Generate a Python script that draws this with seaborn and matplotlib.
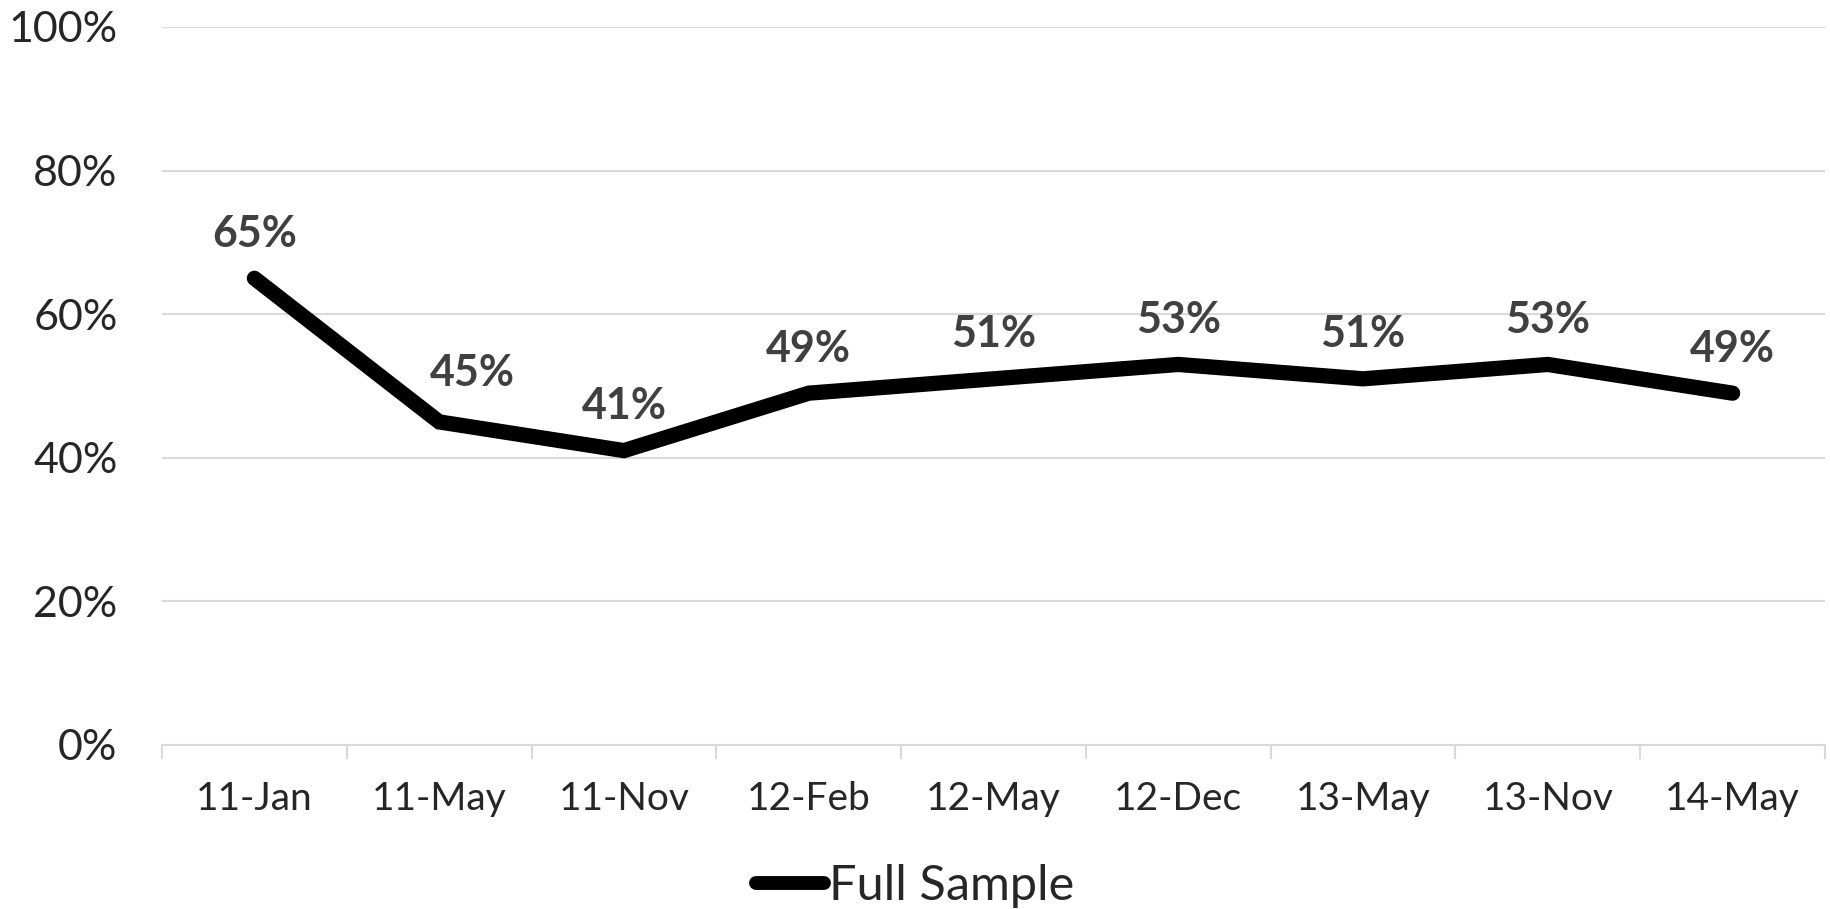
import seaborn as sns
import matplotlib.pyplot as plt
import pandas as pd
from matplotlib.ticker import PercentFormatter

dates = ['11-Jan', '11-May', '11-Nov', '12-Feb', '12-May', '12-Dec', '13-May', '13-Nov', '14-May']
full_sample = [65, 45, 41, 49, 51, 53, 51, 53, 49]

df = pd.DataFrame({'date': dates, 'value': full_sample})

sns.set_style('white')
plt.rcParams['font.family'] = ['Lato', 'DejaVu Sans']

fig = plt.figure(figsize=(18.31, 9.09), dpi=100)
ax = fig.add_axes([162 / 1831, 1 - 745 / 909, (1825 - 162) / 1831, (745 - 27) / 909])

sns.lineplot(x='date', y='value', data=df, ax=ax, color='black', linewidth=11,
             solid_capstyle='round', solid_joinstyle='miter', label='Full Sample', sort=False)

# label offsets in points (the 11-May label sits a bit to the right)
label_dx = [0, 24, 0, 0, 0, 0, 0, 0, 0]
label_dy = [32, 35, 32, 32, 32, 32, 32, 32, 32]
for i, v in enumerate(full_sample):
    ax.annotate(f'{v}%', (i, v), xytext=(label_dx[i], label_dy[i]), textcoords='offset points',
                ha='center', va='center', fontsize=31, fontweight='bold', color='#404040')

ax.set_ylim(0, 100)
ax.set_xlim(-0.5, len(dates) - 0.5)
ax.set_yticks(range(0, 101, 20))
ax.yaxis.set_major_formatter(PercentFormatter(decimals=0))
ax.grid(axis='y', color='#d9d9d9', linewidth=1.5)
ax.set_axisbelow(True)
for s in ['top', 'right', 'left']:
    ax.spines[s].set_visible(False)
ax.spines['bottom'].set_color('#d9d9d9')
ax.spines['bottom'].set_linewidth(1.5)

# category separators below axis
ax.set_xticks([i - 0.5 for i in range(len(dates) + 1)], minor=True)
ax.tick_params(axis='x', which='minor', length=10, width=1.5, color='#d9d9d9', direction='out', bottom=True)
ax.tick_params(axis='x', which='major', length=0, labelsize=28, pad=26)
ax.tick_params(axis='y', length=0, labelsize=31, pad=32)
ax.set_xlabel('')
ax.set_ylabel('')

leg = ax.legend(loc='center', bbox_to_anchor=(0.5, 1 - 886 / 909), bbox_transform=fig.transFigure,
                frameon=False, fontsize=35, handlelength=1.4, handletextpad=0.1)
for h in leg.get_lines():
    h.set_linewidth(10)

fig.savefig('out.png', dpi=100)
